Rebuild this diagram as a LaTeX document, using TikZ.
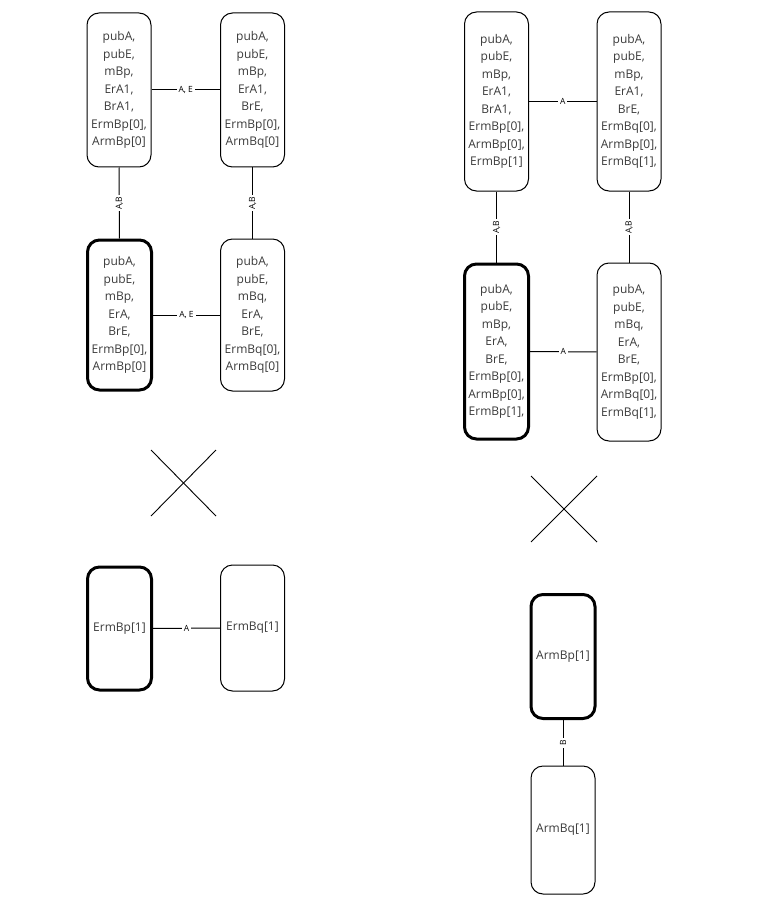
\documentclass[tikz,border=0pt]{standalone}
\usepackage{fontspec}
\setmainfont{Open Sans}
\begin{document}
\begin{tikzpicture}[x=1pt,y=-1pt,
  box/.style={draw=black, line width=1pt, rounded corners=12, minimum width=64, minimum height=154,
    align=center, text=txtgray, font=\fontsize{12}{17.5}\selectfont, inner sep=0pt},
  thickbox/.style={box, line width=3pt},
  lbl/.style={fill=white, font=\fontsize{8.5}{9}\selectfont, inner sep=2pt, text=black},
  conn/.style={line width=1pt},
  crossline/.style={line width=0.9pt}]
\definecolor{txtgray}{HTML}{3A3A3A}
\useasboundingbox (0,0) rectangle (779,912);

% left column, top pair
\node[box] (l1) at (119,90) {pubA,\\pubE,\\mBp,\\ErA1,\\BrA1,\\ErmBp[0],\\ArmBp[0]};
\node[box] (l2) at (252.5,90) {pubA,\\pubE,\\mBp,\\ErA1,\\BrE,\\ErmBp[0],\\ArmBq[0]};
% left column, second pair
\node[thickbox, minimum height=150] (l3) at (119.5,315) {pubA,\\pubE,\\mBp,\\ErA,\\BrE,\\ErmBp[0],\\ArmBp[0]};
\node[box, minimum height=152] (l4) at (252.5,315) {pubA,\\pubE,\\mBq,\\ErA,\\BrE,\\ErmBq[0],\\ArmBq[0]};

\draw[conn] (l1) -- node[lbl]{A, E} (l2);
\draw[conn] (l3) -- node[lbl]{A, E} (l4);
\draw[conn] (l1) -- node[lbl, rotate=90]{A,B} (l3);
\draw[conn] (l2) -- node[lbl, rotate=90]{A,B} (l4);

% left cross
\coordinate (lc1) at (151,450);
\coordinate (lc2) at (216,516);
\coordinate (lc3) at (216,450);
\coordinate (lc4) at (151,516);
\draw[crossline] (lc1) -- (lc2);
\draw[crossline] (lc3) -- (lc4);

% left bottom pair
\node[thickbox, minimum height=123] (l5) at (119.5,628.5) {ErmBp[1]};
\node[box, minimum height=126] (l6) at (252.5,628) {ErmBq[1]};
\draw[conn] (l5) -- node[lbl]{A} (l6);

% right column, top pair
\node[box, minimum height=179] (r1) at (496.5,101.5) {pubA,\\pubE,\\mBp,\\ErA1,\\BrA1,\\ErmBp[0],\\ArmBp[0],\\ErmBp[1]};
\node[box, minimum height=179] (r2) at (629,101.5) {pubA,\\pubE,\\mBp,\\ErA1,\\BrE,\\ErmBq[0],\\ArmBp[0],\\ErmBq[1],};
% right column, second pair
\node[thickbox, minimum height=175] (r3) at (496.5,351.5) {pubA,\\pubE,\\mBp,\\ErA,\\BrE,\\ErmBp[0],\\ArmBp[0],\\ErmBp[1],};
\node[box, minimum height=178] (r4) at (629,352) {pubA,\\pubE,\\mBq,\\ErA,\\BrE,\\ErmBp[0],\\ArmBq[0],\\ErmBq[1],};

\draw[conn] (r1) -- node[lbl]{A} (r2);
\draw[conn] (r3) -- node[lbl]{A} (r4);
\draw[conn] (r1) -- node[lbl, rotate=90]{A,B} (r3);
\draw[conn] (r2) -- node[lbl, rotate=90]{A,B} (r4);

% right cross
\coordinate (rc1) at (531,476);
\coordinate (rc2) at (597,542);
\coordinate (rc3) at (597,476);
\coordinate (rc4) at (531,542);
\draw[crossline] (rc1) -- (rc2);
\draw[crossline] (rc3) -- (rc4);

% right bottom pair
\node[thickbox, minimum height=124] (r5) at (563,656.5) {ArmBp[1]};
\node[box, minimum height=128] (r6) at (563,830) {ArmBq[1]};
\draw[conn] (r5) -- node[lbl, rotate=90]{B} (r6);
\end{tikzpicture}
\end{document}
